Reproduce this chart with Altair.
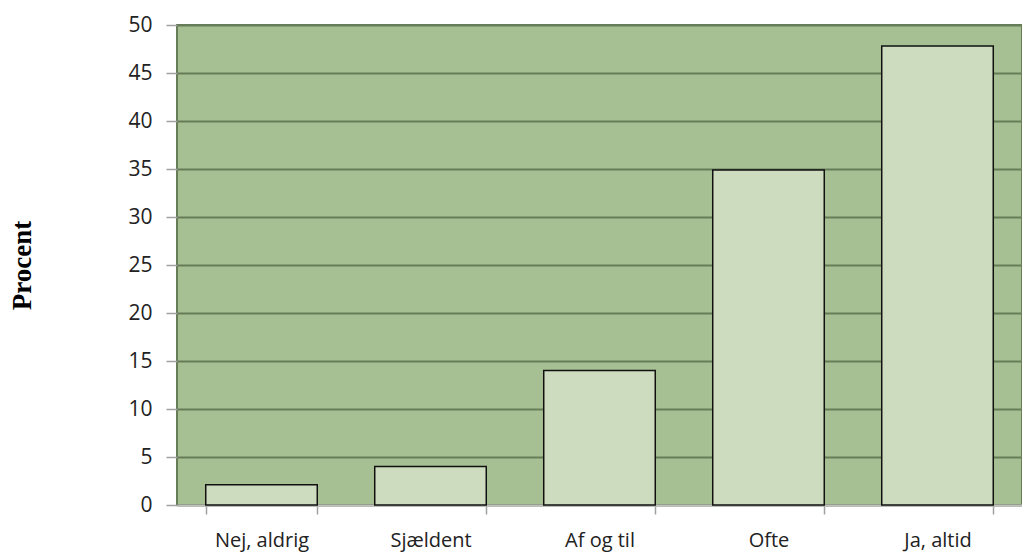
import altair as alt
import pandas as pd

categories = ["Nej, aldrig", "Sjældent", "Af og til", "Ofte", "Ja, altid"]
values = [2.1, 4.0, 14.0, 34.9, 47.8]
y_ticks = [0, 5, 10, 15, 20, 25, 30, 35, 40, 45, 50]

df = pd.DataFrame({"cat": categories, "val": values})

font = "Open Sans"

chart = alt.Chart(df).mark_bar(
    fill="#cddbbf", stroke="#111111", strokeWidth=1.5
).encode(
    x=alt.X("cat:N", sort=categories, title=None,
            scale=alt.Scale(paddingInner=0.34, paddingOuter=0.17),
            axis=alt.Axis(labelAngle=0, tickBand="extent", tickSize=9,
                          tickColor="#a0a0a0", tickWidth=1.5,
                          domainColor="#c0c0c0", domainWidth=2,
                          labelFont=font, labelFontSize=20, labelColor="#222222",
                          labelPadding=16, grid=False)),
    y=alt.Y("val:Q", title="Procent",
            scale=alt.Scale(domain=[0, 50], nice=False),
            axis=alt.Axis(values=y_ticks, tickSize=11, tickColor="#a0a0a0",
                          tickWidth=1.5, domain=False,
                          gridColor="#667d58", gridWidth=2,
                          labelFont=font, labelFontSize=21, labelColor="#222222",
                          labelPadding=14,
                          titleFont="Liberation Serif", titleFontSize=27,
                          titleFontWeight="bold", titleColor="#000000",
                          titleAngle=-90, titleX=-155, titleY=240,
                          titleAlign="center", titleBaseline="middle")),
).properties(
    width=845, height=480,
    autosize=alt.AutoSizeParams(type="none"),
    padding={"left": 169, "top": 17, "right": 0, "bottom": 50},
).configure_view(
    fill="#a7c093", stroke="#667d58", strokeWidth=2
)

chart.save("out.html", embed_options={"renderer": "svg", "actions": False})
